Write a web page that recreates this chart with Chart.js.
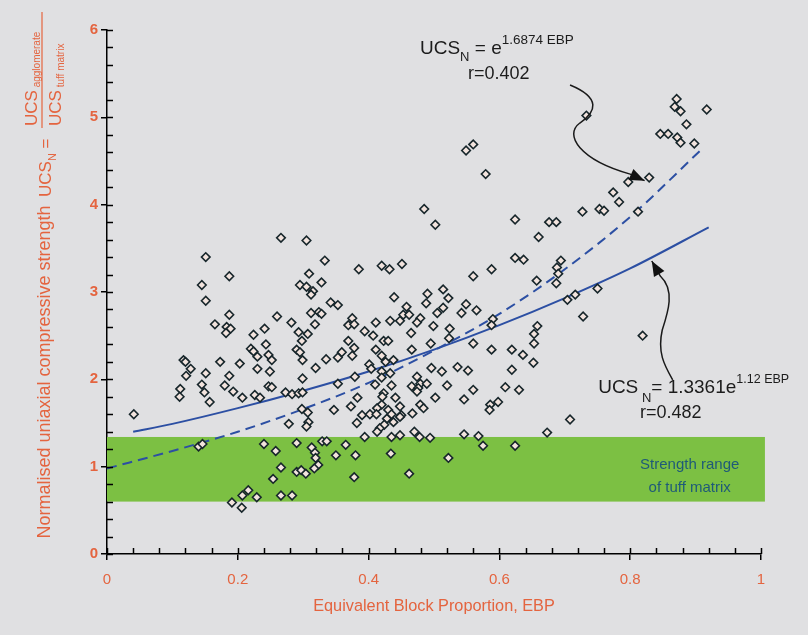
<!DOCTYPE html>
<html>
<head>
<meta charset="utf-8">
<script src="https://cdn.jsdelivr.net/npm/chart.js@4.4.1/dist/chart.umd.min.js"></script>
<style>
  html, body { margin: 0; padding: 0; background: #e0e0e2; }
  #wrap { width: 808px; height: 635px; }
</style>
</head>
<body>
<div id="wrap"><canvas id="chart" width="808" height="635"></canvas></div>
<script>
// ---- Data ----
const ebp = [
  0.560,0.549,0.579,0.485,0.502,0.624,0.676,0.687,0.660,
  0.871,0.868,0.877,0.917,0.886,0.846,0.858,0.872,0.877,0.898,0.733,0.797,0.829,0.774,0.783,0.727,0.753,0.760,0.812,
  0.151,0.187,0.145,0.151,0.187,0.165,0.183,0.189,0.182,0.224,0.241,0.243,0.220,0.224,0.230,0.117,0.120,0.128,0.173,0.203,0.230,0.151,0.121,0.187,
  0.266,0.305,0.333,0.385,0.420,0.432,0.451,0.309,0.328,0.295,0.305,0.315,0.312,0.439,0.342,0.353,0.458,0.453,0.462,0.448,0.312,0.324,0.328,0.260,
  0.375,0.369,0.378,0.282,0.318,0.411,0.433,0.394,0.407,0.465,0.293,0.307,0.298,0.369,0.423,0.430,0.378,0.411,0.290,0.295,0.299,0.466,0.247,0.252,
  0.359,0.353,0.375,0.420,0.426,0.438,0.335,0.319,0.401,0.404,0.420,0.433,0.249,0.379,0.299,
  0.624,0.637,0.588,0.560,0.688,0.690,0.657,0.687,0.514,0.490,0.522,0.488,0.549,0.514,0.505,0.542,0.565,0.479,0.474,0.499,0.590,0.588,0.524,0.523,
  0.658,0.653,0.653,0.495,0.560,0.588,0.619,0.636,0.652,0.496,0.512,0.536,0.552,0.619,
  0.694,0.750,0.704,0.716,0.728,0.819,
  0.145,0.149,0.112,0.111,0.157,0.180,0.193,0.207,0.226,0.234,0.247,0.041,0.140,0.146,0.240,0.216,0.207,0.229,0.191,0.206,
  0.353,0.252,0.273,0.283,0.293,0.299,0.410,0.420,0.435,0.466,0.423,0.421,0.383,0.441,0.448,0.420,0.413,0.373,0.347,0.298,0.307,0.430,0.435,0.428,
  0.390,0.402,0.412,0.450,0.467,0.308,0.305,0.278,0.382,0.424,0.417,0.438,0.448,0.413,0.394,0.435,0.448,0.470,0.290,0.329,0.336,0.365,0.258,0.313,
  0.318,0.319,0.350,0.380,0.434,0.266,0.323,0.317,0.290,0.297,0.304,0.254,0.378,0.462,0.266,0.283,
  0.474,0.479,0.476,0.474,0.489,0.520,0.560,0.609,0.630,0.502,0.546,0.598,0.586,0.585,0.479,0.484,0.478,0.494,0.546,0.568,0.673,0.575,0.624,0.522,
  0.708
];
const ucsN = [
  4.69,4.62,4.35,3.95,3.77,3.83,3.80,3.80,3.63,
  5.21,5.12,5.07,5.09,4.92,4.81,4.81,4.77,4.71,4.70,5.02,4.26,4.31,4.14,4.03,3.92,3.95,3.93,3.92,
  3.40,3.18,3.08,2.90,2.74,2.63,2.60,2.58,2.53,2.51,2.58,2.40,2.35,2.32,2.26,2.22,2.20,2.12,2.20,2.18,2.12,2.07,2.04,2.04,
  3.62,3.59,3.36,3.26,3.30,3.26,3.32,3.21,3.11,3.08,3.06,3.01,2.97,2.94,2.88,2.85,2.83,2.74,2.74,2.67,2.76,2.77,2.75,2.72,
  2.70,2.62,2.63,2.65,2.63,2.65,2.67,2.55,2.50,2.53,2.54,2.52,2.44,2.44,2.44,2.44,2.36,2.34,2.34,2.31,2.22,2.34,2.28,2.22,
  2.31,2.25,2.27,2.27,2.20,2.22,2.23,2.13,2.17,2.12,2.09,2.07,2.09,2.03,2.01,
  3.39,3.37,3.26,3.18,3.28,3.21,3.13,3.10,3.03,2.98,2.93,2.87,2.86,2.82,2.76,2.76,2.79,2.70,2.65,2.61,2.69,2.62,2.58,2.47,
  2.61,2.52,2.41,2.41,2.41,2.34,2.34,2.28,2.19,2.13,2.09,2.14,2.10,2.11,
  3.36,3.04,2.91,2.97,2.72,2.50,
  1.94,1.85,1.89,1.80,1.74,1.93,1.86,1.79,1.82,1.79,1.92,1.60,1.23,1.26,1.26,0.73,0.67,0.65,0.59,0.53,
  1.95,1.91,1.85,1.83,1.84,1.85,1.94,2.02,1.93,1.92,1.84,1.80,1.79,1.79,1.69,1.71,1.67,1.69,1.65,1.66,1.62,1.65,1.60,1.55,
  1.59,1.60,1.60,1.59,1.61,1.51,1.46,1.49,1.50,1.48,1.44,1.51,1.57,1.40,1.34,1.34,1.36,1.40,1.27,1.29,1.29,1.25,1.18,1.22,
  1.16,1.10,1.13,1.13,1.15,0.99,1.02,0.98,0.94,0.96,0.92,0.86,0.88,0.92,0.67,0.67,
  2.03,1.95,1.90,1.86,1.95,1.93,1.88,1.91,1.88,1.79,1.77,1.74,1.71,1.65,1.71,1.67,1.34,1.33,1.37,1.35,1.39,1.24,1.24,1.10,
  1.54
];

// fitted curves as drawn in the figure
const dashFitX = [0, 0.1, 0.2, 0.3, 0.4, 0.5, 0.6, 0.7, 0.8, 0.91];
const dashFitY = [0.98, 1.18, 1.40, 1.66, 1.96, 2.33, 2.75, 3.26, 3.86, 4.64];
const solidFitX = [0.04, 0.1, 0.2, 0.3, 0.4, 0.5, 0.6, 0.7, 0.8, 0.92];
const solidFitY = [1.40, 1.49, 1.67, 1.87, 2.09, 2.34, 2.62, 2.93, 3.27, 3.74];

// strength range of tuff matrix
const bandEBP = [0, 1.006];
const bandUCS = [0.60, 1.34];

const xTicks = [0, 0.2, 0.4, 0.6, 0.8, 1];
const yTicks = [0, 1, 2, 3, 4, 5, 6];
const xMinorStep = 0.04;
const yMinorStep = 0.2;

// ---- Style ----
const ORANGE = '#e4643f';
const FONT = '"Liberation Sans", Arial, sans-serif';
const fontStr = (size, weight) => (weight || 'normal') + ' ' + size + 'px ' + FONT;

// ---- Helpers ----
function richText(ctx, parts, x, y, align) {
  let w = 0;
  parts.forEach(p => { ctx.font = fontStr(p.size); p.w = ctx.measureText(p.t).width; w += p.w; });
  let cx = align === 'center' ? x - w / 2 : x;
  ctx.textAlign = 'left';
  ctx.textBaseline = 'alphabetic';
  parts.forEach(p => { ctx.font = fontStr(p.size); ctx.fillText(p.t, cx, y + (p.dy || 0)); cx += p.w; });
}

function arrow(ctx, sx, sy, segs, tip) {
  const P = ([x, y]) => [sx.getPixelForValue(x), sy.getPixelForValue(y)];
  ctx.beginPath();
  const s = P(segs[0]);
  ctx.moveTo(s[0], s[1]);
  let last = s;
  for (let i = 1; i + 2 < segs.length; i += 3) {
    const a = P(segs[i]), b = P(segs[i + 1]), c = P(segs[i + 2]);
    ctx.bezierCurveTo(a[0], a[1], b[0], b[1], c[0], c[1]);
    last = c;
  }
  const t = P(tip);
  ctx.lineTo(t[0], t[1]);
  ctx.stroke();
  const ang = Math.atan2(t[1] - last[1], t[0] - last[0]);
  const L = 15, W = 6;
  ctx.beginPath();
  ctx.moveTo(t[0], t[1]);
  ctx.lineTo(t[0] - L * Math.cos(ang) + W * Math.sin(ang), t[1] - L * Math.sin(ang) - W * Math.cos(ang));
  ctx.lineTo(t[0] - L * Math.cos(ang) - W * Math.sin(ang), t[1] - L * Math.sin(ang) + W * Math.cos(ang));
  ctx.closePath();
  ctx.fill();
}

// ---- Decorations plugin ----
const decor = {
  id: 'decor',
  beforeDraw(chart) {
    const c = chart.ctx;
    c.save();
    c.fillStyle = '#e0e0e2';
    c.fillRect(0, 0, chart.width, chart.height);
    c.restore();
  },
  beforeDatasetsDraw(chart) {
    const { ctx: c, scales: { x, y } } = chart;
    const l = x.getPixelForValue(bandEBP[0]), r = x.getPixelForValue(bandEBP[1]);
    const t = y.getPixelForValue(bandUCS[1]), b = y.getPixelForValue(bandUCS[0]);
    c.save();
    c.fillStyle = '#7cc043';
    c.fillRect(l, t, r - l, b - t);
    c.restore();
  },
  afterDraw(chart) {
    const { ctx: c, chartArea: a, scales: { x, y } } = chart;
    c.save();
    // minor + inner ticks
    c.strokeStyle = '#000';
    c.lineWidth = 1.5;
    c.beginPath();
    for (let v = xMinorStep; v < 1; v += xMinorStep) {
      const px = Math.round(x.getPixelForValue(v)) + 0.5;
      c.moveTo(px, a.bottom); c.lineTo(px, a.bottom - 6);
    }
    xTicks.forEach(v => { const px = Math.round(x.getPixelForValue(v)) + 0.5; c.moveTo(px, a.bottom); c.lineTo(px, a.bottom - 6); });
    for (let v = yMinorStep; v < 6; v += yMinorStep) {
      const py = Math.round(y.getPixelForValue(v)) + 0.5;
      c.moveTo(a.left, py); c.lineTo(a.left + 6, py);
    }
    yTicks.forEach(v => { const py = Math.round(y.getPixelForValue(v)) + 0.5; c.moveTo(a.left, py); c.lineTo(a.left + 6, py); });
    c.stroke();

    // x axis title
    c.fillStyle = ORANGE;
    c.font = fontStr(16.3);
    c.textAlign = 'center';
    c.textBaseline = 'middle';
    c.fillText('Equivalent Block Proportion, EBP', (a.left + a.right) / 2, 607);

    // y axis title (rotated)
    c.save();
    c.translate(45, 0);
    c.rotate(-Math.PI / 2);
    c.font = fontStr(18);
    c.textAlign = 'center';
    c.textBaseline = 'middle';
    c.fillText('Normalised uniaxial compressive strength', -372, 0);
    richText(c, [{ t: 'UCS', size: 17 }, { t: 'N', size: 11, dy: 5 }, { t: ' =', size: 17 }], -197, 6, 'left');
    richText(c, [{ t: 'UCS', size: 17 }, { t: ' agglomerate', size: 10, dy: 3 }], -126, -8, 'left');
    richText(c, [{ t: 'UCS', size: 17 }, { t: ' tuff matrix', size: 10, dy: 3 }], -126, 16, 'left');
    c.strokeStyle = ORANGE;
    c.lineWidth = 1.2;
    c.beginPath();
    c.moveTo(-128, -3); c.lineTo(-12, -3);
    c.stroke();
    c.restore();

    // fitted curve labels
    c.fillStyle = '#1c1c1c';
    richText(c, [{ t: 'UCS', size: 19 }, { t: 'N', size: 13, dy: 7 }, { t: ' = e', size: 19 }, { t: '1.6874 EBP', size: 13.5, dy: -10 }],
      x.getPixelForValue(0.4786), y.getPixelForValue(5.725), 'left');
    richText(c, [{ t: 'r=0.402', size: 18 }], x.getPixelForValue(0.599), y.getPixelForValue(5.439), 'center');
    richText(c, [{ t: 'UCS', size: 19 }, { t: ' N', size: 13, dy: 9 }, { t: '= 1.3361e', size: 19 }, { t: '1.12 EBP', size: 12.5, dy: -10 }],
      x.getPixelForValue(0.751), y.getPixelForValue(1.844), 'left');
    richText(c, [{ t: 'r=0.482', size: 18 }], x.getPixelForValue(0.862), y.getPixelForValue(1.557), 'center');

    // band text
    c.fillStyle = '#1f5a78';
    c.font = fontStr(15);
    c.textAlign = 'center';
    c.textBaseline = 'middle';
    c.fillText('Strength range', x.getPixelForValue(0.891), y.getPixelForValue(1.019));
    c.fillText('of tuff matrix', x.getPixelForValue(0.891), y.getPixelForValue(0.756));

    // arrows
    c.strokeStyle = '#1a1a1a';
    c.fillStyle = '#111';
    c.lineWidth = 1.5;
    arrow(c, x, y, [[0.708, 5.370], [0.756, 5.222], [0.748, 5.061], [0.723, 4.935], [0.698, 4.798], [0.723, 4.512], [0.800, 4.350]], [0.822, 4.275]);
    arrow(c, x, y, [[0.865, 1.993], [0.853, 2.153], [0.841, 2.301], [0.849, 2.565], [0.858, 2.771], [0.869, 3.023], [0.846, 3.183]], [0.833, 3.355]);
    c.restore();
  }
};

// ---- Chart ----
new Chart(document.getElementById('chart'), {
  type: 'scatter',
  data: {
    datasets: [
      {
        label: 'samples',
        data: ebp.map((v, i) => ({ x: v, y: ucsN[i] })),
        pointStyle: 'rectRot',
        pointRadius: 4.3,
        borderWidth: 1.6,
        borderColor: '#17262b',
        backgroundColor: '#f3e4de',
        order: 0
      },
      {
        type: 'line',
        label: 'UCSN = e^1.6874EBP',
        data: dashFitX.map((v, i) => ({ x: v, y: dashFitY[i] })),
        borderColor: '#2c4fa3',
        borderWidth: 2,
        borderDash: [10, 6],
        pointRadius: 0,
        cubicInterpolationMode: 'monotone',
        fill: false,
        order: 1
      },
      {
        type: 'line',
        label: 'UCSN = 1.3361e^1.12EBP',
        data: solidFitX.map((v, i) => ({ x: v, y: solidFitY[i] })),
        borderColor: '#2c4fa3',
        borderWidth: 2,
        pointRadius: 0,
        cubicInterpolationMode: 'monotone',
        fill: false,
        order: 2
      }
    ]
  },
  options: {
    responsive: false,
    animation: false,
    devicePixelRatio: 1,
    layout: { padding: { top: 30, right: 47, bottom: 0, left: 0 } },
    plugins: { legend: { display: false }, tooltip: { enabled: false } },
    scales: {
      x: {
        type: 'linear', min: 0, max: 1,
        afterBuildTicks: s => { s.ticks = xTicks.map(v => ({ value: v })); },
        afterFit: s => { s.height = 81; },
        ticks: { color: ORANGE, font: { size: 15, family: FONT }, padding: 11, maxRotation: 0, callback: v => String(v) },
        grid: { drawOnChartArea: false, color: '#000', lineWidth: 1.5, tickLength: 6 },
        border: { color: '#000', width: 1.5 }
      },
      y: {
        type: 'linear', min: 0, max: 6,
        afterBuildTicks: s => { s.ticks = yTicks.map(v => ({ value: v })); },
        afterFit: s => { s.width = 107; },
        ticks: { color: ORANGE, font: { size: 15, family: FONT, weight: 'bold' }, padding: 3, callback: v => String(v) },
        grid: { drawOnChartArea: false, color: '#000', lineWidth: 1.5, tickLength: 6 },
        border: { color: '#000', width: 1.5 }
      }
    }
  },
  plugins: [decor]
});
</script>
</body>
</html>
